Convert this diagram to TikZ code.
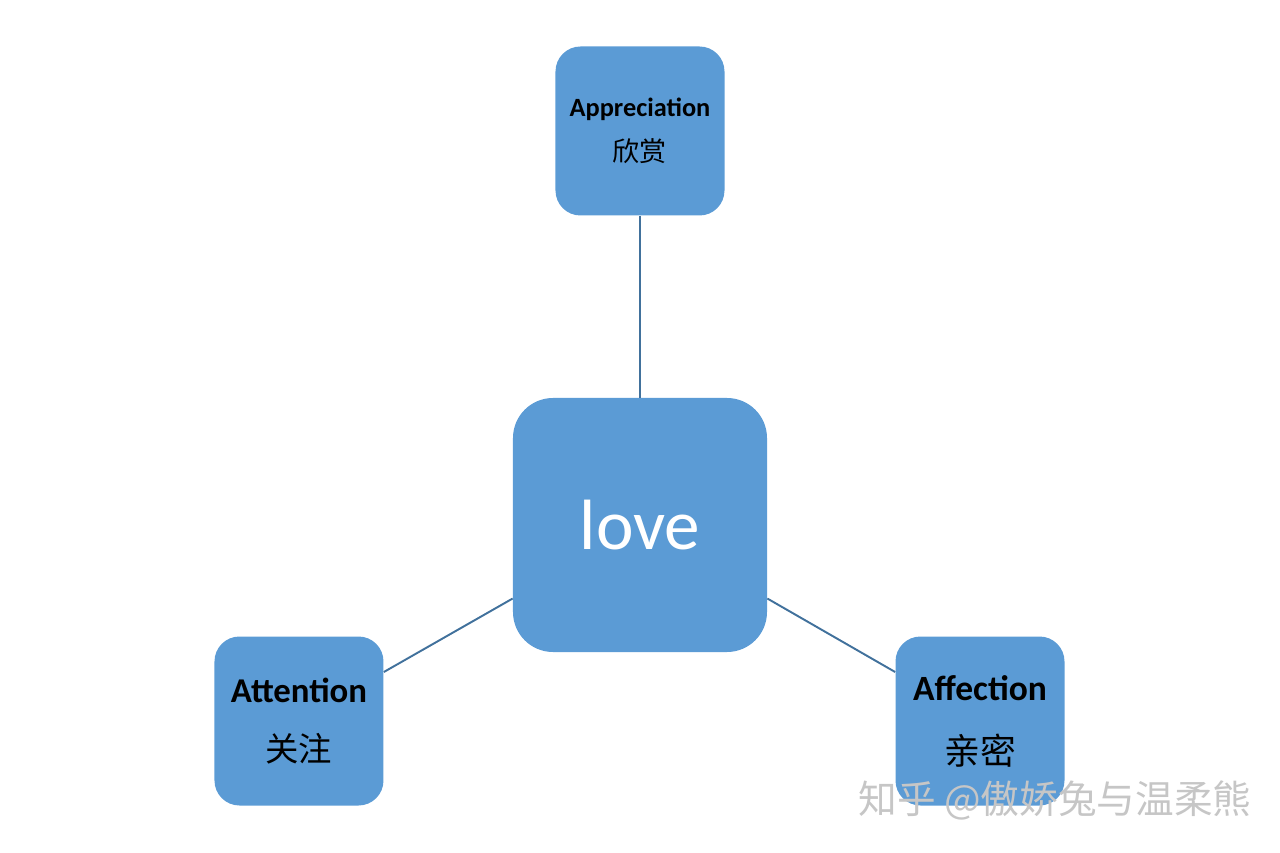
\documentclass[tikz,border=0pt]{standalone}
\usepackage{fontspec}
\setmainfont{Carlito}
\newfontfamily\cjk{Noto Sans CJK SC}
\usepackage{tikz}
\usepackage{xcolor}
\usetikzlibrary{positioning}
\definecolor{boxblue}{HTML}{5B9BD5}
\definecolor{lineblue}{HTML}{41719C}
\tikzstyle{center} = [rectangle, rounded corners=0.8cm, minimum width=5.08cm, minimum height=5.08cm, text centered, fill=boxblue, text=white, font=\fontsize{40.5}{42}\selectfont]
\tikzstyle{facet} = [rectangle, rounded corners=0.5cm, minimum width=3.38cm, minimum height=3.38cm, text centered, fill=boxblue, text=black]
\tikzstyle{link} = [lineblue, line width=1.1pt]

\begin{document}
\begin{tikzpicture}[node distance=1cm]
            \useasboundingbox (-12.8,-6.56) rectangle (12.8,10.5);
            \node (love) [center] {love};
            \node (appr) [facet, above of=love, yshift=6.88cm, align=center] {\fontsize{15}{16}\selectfont\bfseries Appreciation\\[9pt]{\cjk\fontsize{15.4}{16}\selectfont 欣赏}};
            \node (attn) [facet, below of=love, yshift=-2.92cm, xshift=-6.82cm, align=center] {\fontsize{19.8}{20}\selectfont\bfseries Attention\\[16pt]{\cjk\fontsize{19}{20}\selectfont 关注}};
            \node (affe) [facet, below of=love, yshift=-2.92cm, xshift=6.80cm, align=center] {\fontsize{20.2}{20}\selectfont\bfseries Affection\\[18pt]{\cjk\fontsize{20.4}{20}\selectfont 亲密}};
            \node (mark) [right of=affe, xshift=0.5cm, yshift=-1.58cm, text=gray!45, font=\cjk\fontsize{22}{24}\selectfont] {知乎 @傲娇兔与温柔熊};

            \draw[link] (appr) -- (love);
            \draw[link] (love.210) -- (attn.30);
            \draw[link] (love.330) -- (affe.150);
        \end{tikzpicture}
\end{document}
